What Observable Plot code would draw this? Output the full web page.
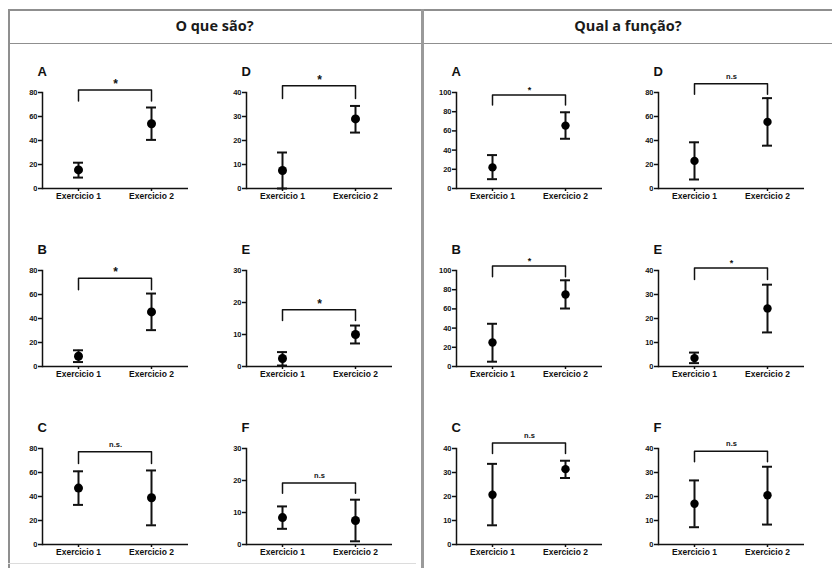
<!DOCTYPE html>
<html><head><meta charset="utf-8">
<script src="https://cdn.jsdelivr.net/npm/d3@7"></script>
<script src="https://cdn.jsdelivr.net/npm/@observablehq/plot@0.6"></script>
<style>
body{margin:0;background:#fff;}
#root{position:relative;width:832px;height:568px;overflow:hidden;background:#fff;}
.ln{position:absolute;background:#8f8f8f;}
.hd{position:absolute;top:9px;height:34px;line-height:34px;text-align:center;font-family:"Open Sans";font-weight:700;font-size:14.5px;color:#1a1a1a;}
.panel{position:absolute;}
.panel svg{overflow:visible;background:transparent;}
</style></head><body><div id="root"></div>
<script>
const categories = ["Exercicio 1", "Exercicio 2"];
const sectionTitles = ["O que são?", "Qual a função?"];
const panelLetters = ["A", "B", "C", "D", "E", "F"];

// "O que são?"
const oqsMean = [[15.5, 54], [8.5, 45.5], [47, 39], [7.5, 29], [2.5, 10], [8.4, 7.5]];
const oqsLow = [[9.1, 40.5], [3.7, 30.3], [33, 16], [0, 23.3], [0.3, 7.2], [4.9, 1]];
const oqsHigh = [[21.5, 67.5], [13.5, 60.8], [61, 61.7], [15, 34.4], [4.5, 12.8], [11.9, 14]];
const oqsYMax = [80, 80, 80, 40, 30, 30];
const oqsTickStep = [20, 20, 20, 10, 10, 10];
const oqsBracket = [82, 73.5, 77.2, 42.8, 17.7, 19.2];
const oqsBracketLeg = [73, 64, 67.4, 37.5, 14.4, 16];
const oqsSig = ["*", "*", "n.s.", "*", "*", "n.s"];

// "Qual a função?"
const qafMean = [[22, 65.5], [25, 75], [20.7, 31.4], [23, 55.5], [3.5, 24.2], [17, 20.5]];
const qafLow = [[9.7, 51.8], [5, 60.4], [8, 27.7], [7.5, 35.7], [1.4, 14.2], [7.2, 8.3]];
const qafHigh = [[34.8, 79.4], [44.5, 89.8], [33.6, 34.9], [38.5, 75.3], [5.8, 34.1], [26.7, 32.4]];
const qafYMax = [100, 100, 40, 80, 40, 40];
const qafTickStep = [20, 20, 10, 20, 10, 10];
const qafBracket = [97.5, 104.8, 42.3, 87.2, 41, 38.9];
const qafBracketLeg = [87, 93.5, 37.9, 78.6, 36.3, 34.5];
const qafSig = ["*", "*", "n.s", "n.s", "*", "n.s"];

const sections = [
  {mean: oqsMean, low: oqsLow, high: oqsHigh, ymax: oqsYMax, step: oqsTickStep, br: oqsBracket, leg: oqsBracketLeg, sig: oqsSig},
  {mean: qafMean, low: qafLow, high: qafHigh, ymax: qafYMax, step: qafTickStep, br: qafBracket, leg: qafBracketLeg, sig: qafSig}
];

// layout (pixels)
const colAxisX = [[42, 245.7], [456, 657.7]];
const rowTopY = [91.5, 269.5, 447.5];
const ML = 32, MT = 40, PW = 146, PH = 96;
const starSize = [12, 9];
const dotR = [4.5, 4.2];

const root = document.getElementById("root");
function line(x, y, w, h, color) {
  const d = document.createElement("div");
  d.className = "ln";
  Object.assign(d.style, {left: x + "px", top: y + "px", width: w + "px", height: h + "px"});
  if (color) d.style.background = color;
  root.appendChild(d);
}
// frame
line(8, 9, 824, 1.5);
line(8, 42.5, 824, 1.5);
line(8, 9, 1.5, 559);
line(421, 9, 3, 559, "#9a9a9a");
line(8, 562.5, 408, 1, "#dcdcdc");
// headers
[[8, 413], [424, 408]].forEach(([x, w], s) => {
  const h = document.createElement("div");
  h.className = "hd";
  h.style.left = x + "px"; h.style.width = w + "px";
  h.textContent = sectionTitles[s];
  root.appendChild(h);
});

function panel(s, i) {
  const S = sections[s];
  const rows = categories.map((c, j) => ({cat: c, mean: S.mean[i][j], low: S.low[i][j], high: S.high[i][j]}));
  const bracket = [
    {cat: categories[0], y: S.leg[i]}, {cat: categories[0], y: S.br[i]},
    {cat: categories[1], y: S.br[i]}, {cat: categories[1], y: S.leg[i]}
  ];
  const sig = S.sig[i];
  const isStar = sig === "*";
  const ymax = S.ymax[i], step = S.step[i];
  return Plot.plot({
    width: ML + PW + 8, height: MT + PH + 22,
    marginLeft: ML, marginRight: 8, marginTop: MT, marginBottom: 22,
    style: {fontFamily: "Liberation Sans, Arial, sans-serif", fontWeight: "bold", color: "#111", background: "transparent", overflow: "visible"},
    x: {type: "band", domain: categories, paddingInner: 0.863, paddingOuter: 0.4315},
    y: {domain: [0, ymax]},
    marks: [
      Plot.axisX({tickSize: 3, tickPadding: 1, fontSize: 8.5, fontWeight: "bold", label: null, strokeWidth: 1.5, style: {letterSpacing: "0.5px"}}),
      Plot.axisY({ticks: d3.range(0, ymax + step / 2, step), tickSize: 4, tickPadding: 1, fontSize: 7.5, fontWeight: "bold", label: null, strokeWidth: 1.5, style: {letterSpacing: "0.4px"}}),
      Plot.ruleY([0], {strokeWidth: 1.5}),
      Plot.frame({anchor: "left", strokeWidth: 1.5}),
      Plot.ruleX(rows, {x: "cat", y1: "low", y2: "high", strokeWidth: 2}),
      Plot.tickY(rows, {x: "cat", y: "low", strokeWidth: 2}),
      Plot.tickY(rows, {x: "cat", y: "high", strokeWidth: 2}),
      Plot.dot(rows, {x: "cat", y: "mean", r: dotR[s], fill: "#000", stroke: null}),
      Plot.line(bracket, {x: "cat", y: "y", strokeWidth: 1.5, stroke: "#111"}),
      Plot.text([{t: sig, y: S.br[i]}], {y: "y", text: "t", lineAnchor: "bottom", dy: isStar ? -2 : -5,
        fontSize: isStar ? starSize[s] : 7.5, fontWeight: "bold"}),
      Plot.text([panelLetters[i]], {text: d => d, frameAnchor: "top-left", textAnchor: "start", lineAnchor: "middle",
        dx: -5, dy: -21, fontSize: 13, fontWeight: "bold"})
    ]
  });
}

for (let s = 0; s < 2; s++) {
  for (let i = 0; i < 6; i++) {
    const col = i < 3 ? 0 : 1, row = i % 3;
    const wrap = document.createElement("div");
    wrap.className = "panel";
    wrap.style.left = (colAxisX[s][col] - ML) + "px";
    wrap.style.top = (rowTopY[row] - MT) + "px";
    wrap.appendChild(panel(s, i));
    root.appendChild(wrap);
  }
}
</script></body></html>
